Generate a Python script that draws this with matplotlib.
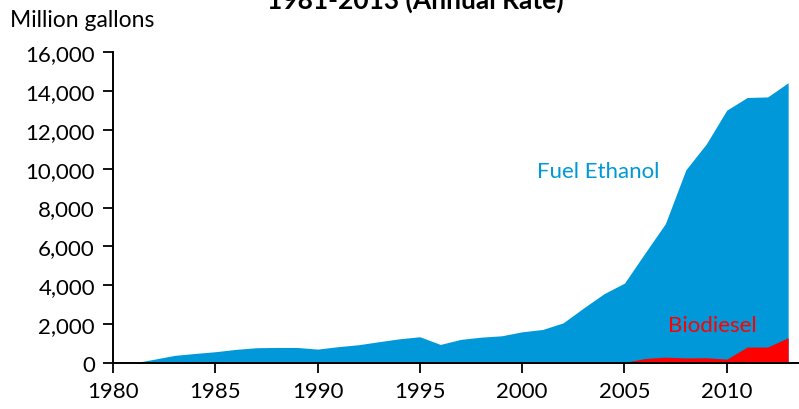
import numpy as np
import matplotlib.pyplot as plt

# ==================== data ====================
years = list(range(1981, 2014))

# top of the blue area = fuel ethanol + biodiesel (million gallons)
total = [0, 190, 390, 490, 580, 700, 785, 800, 800, 715,
         840, 940, 1095, 1245, 1350, 955, 1215, 1330, 1400, 1605,
         1725, 2065, 2830, 3565, 4110, 5650, 7170, 9940, 11270, 13010,
         13660, 13690, 14420]

biodiesel = [0, 0, 0, 0, 0, 0, 0, 0, 0, 0,
             0, 0, 0, 0, 0, 0, 0, 0, 0, 0,
             0, 0, 0, 0, 30, 230, 300, 260, 270, 200,
             820, 820, 1300]

y_ticks = [0, 2000, 4000, 6000, 8000, 10000, 12000, 14000, 16000]
x_ticks = [1980, 1985, 1990, 1995, 2000, 2005, 2010]

title = "1981-2013 (Annual Rate)"
unit_label = "Million gallons"

BLUE = '#0098D8'
RED = '#FF0000'

plt.rcParams['font.family'] = ['Lato', 'DejaVu Sans']

fig = plt.figure(figsize=(7.99, 4.10), dpi=100)
ax = fig.add_axes([0.1414, 0.1122, 0.8586, 0.7585])

ax.fill_between(years, 0, total, color=BLUE, linewidth=0)
ax.fill_between(years, 0, biodiesel, color=RED, linewidth=0)

ax.set_xlim(1980, 2013.53)
ax.set_ylim(0, 16000)
ax.set_xticks(x_ticks)
ax.set_yticks(y_ticks)
ax.set_yticklabels([f"{v:,}" for v in y_ticks])

for s in ['top', 'right']:
    ax.spines[s].set_visible(False)
for s in ['left', 'bottom']:
    ax.spines[s].set_linewidth(1.4)
    ax.spines[s].set_color('black')

ax.tick_params(axis='both', direction='out', length=7, width=1.3,
               labelsize=16, colors='black')
ax.tick_params(axis='x', pad=6)
ax.tick_params(axis='y', pad=6)

# series labels
ax.text(2003.7, 9880, "Fuel Ethanol", color=BLUE, fontsize=16,
        ha='center', va='center', zorder=5)
ax.text(2009.3, 1950, "Biodiesel", color=RED, fontsize=16,
        ha='center', va='center', zorder=5)

fig.text(0.013, 0.95, unit_label, fontsize=16.5, ha='left', va='center')
fig.text(0.52, 0.978, title, fontsize=19, fontweight='bold',
         ha='center', va='baseline')

fig.savefig('out.png', dpi=100)
